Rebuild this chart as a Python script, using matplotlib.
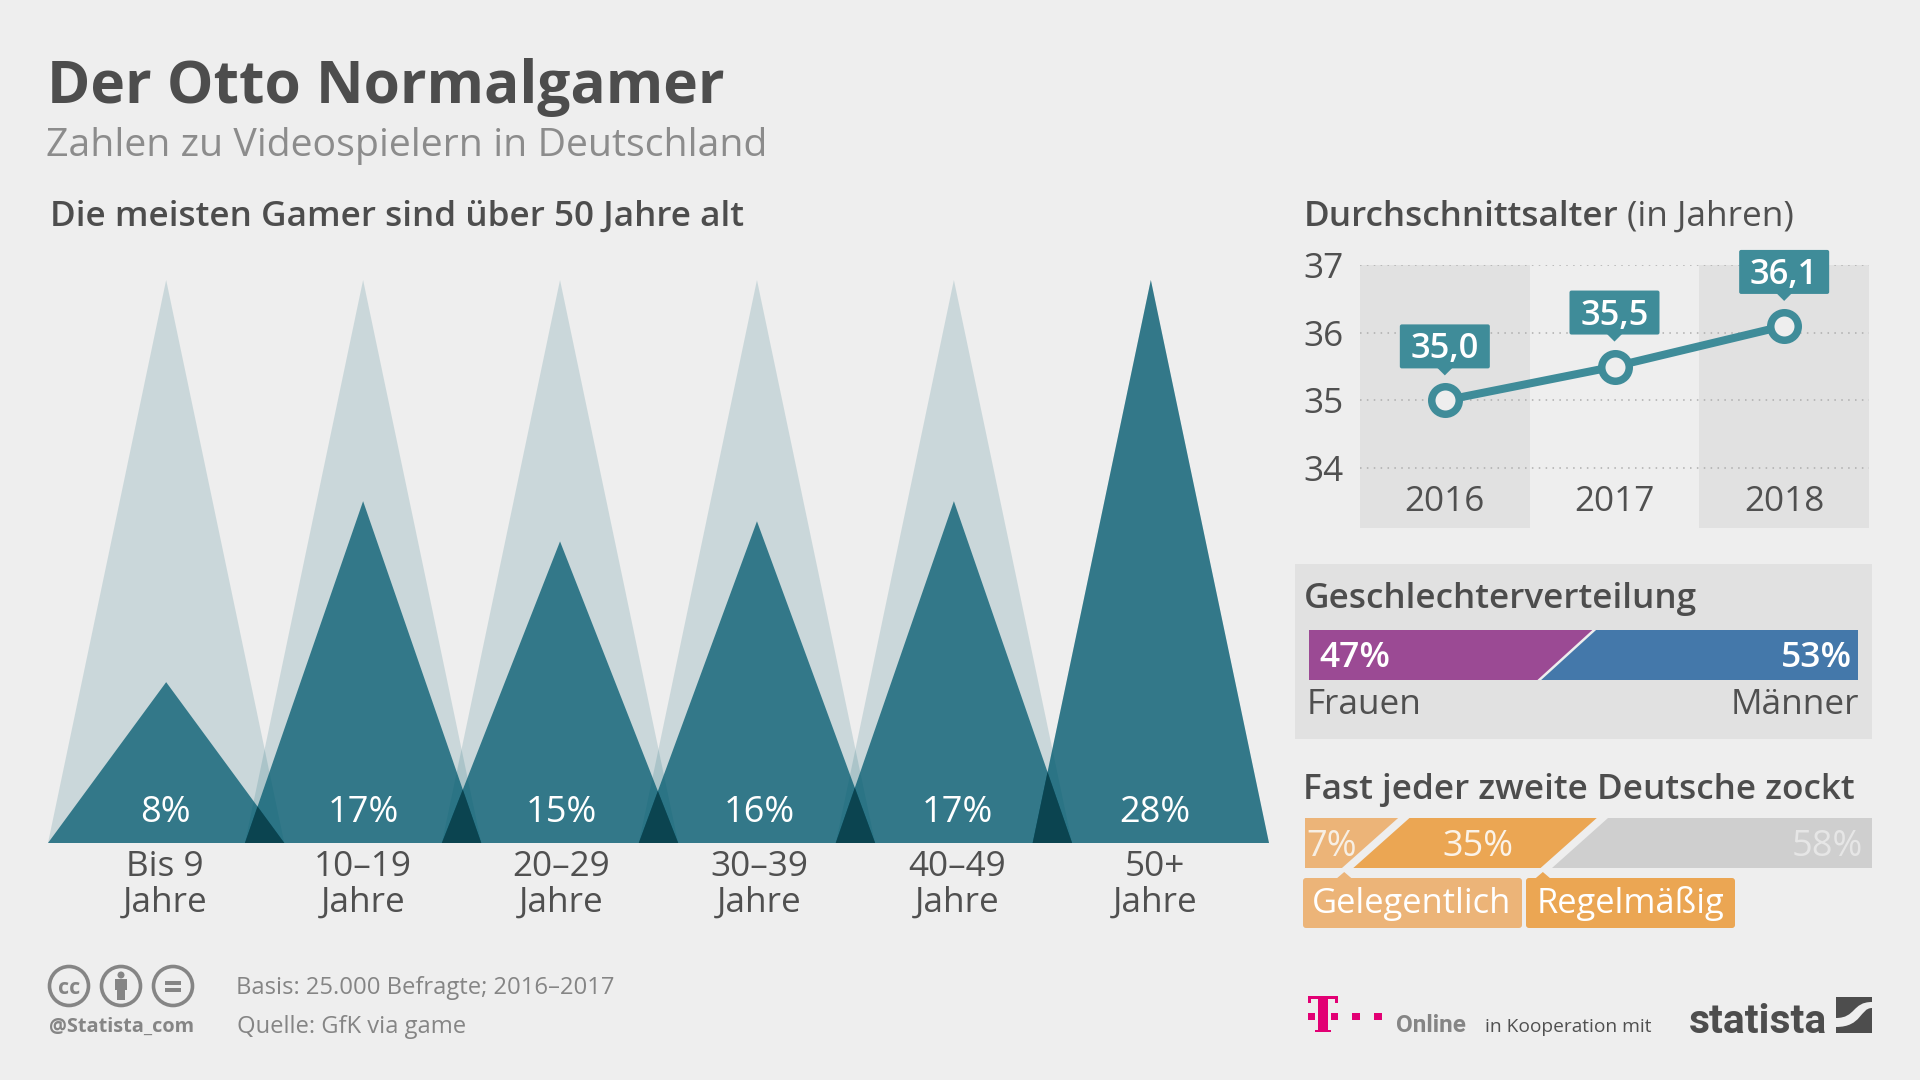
"""
Der Otto Normalgamer - recreated infographic: triangle bars, line chart, two stacked bars.
"""

import matplotlib

matplotlib.use("Agg")

import matplotlib.pyplot as plt
from matplotlib.patches import Circle, FancyBboxPatch, PathPatch, Polygon, Rectangle
from matplotlib.path import Path

plt.rcParams["font.family"] = ["Open Sans", "DejaVu Sans"]

# Age groups
age_groups = ["Bis 9\nJahre", "10–19\nJahre", "20–29\nJahre", "30–39\nJahre", "40–49\nJahre", "50+\nJahre"]
age_shares = [8, 17, 15, 16, 17, 28]

# Average age
years = ["2016", "2017", "2018"]
mean_age = [35.0, 35.5, 36.1]
mean_age_labels = ["35,0", "35,5", "36,1"]
age_ticks = [34, 35, 36, 37]

# Gender
gender_names = ["Frauen", "Männer"]
gender_shares = [47, 53]

# How often people play
play_names = ["Gelegentlich", "Regelmäßig", "Nie"]
play_shares = [7, 35, 58]

BG = "#eeeeee"
DARK = "#4d4d4d"
TEXT = "#505050"
GREY = "#858585"
TEAL = "#00596e"
TEAL_LINE = "#3f8c99"
HEAD = 25.3
BODY = 25.3

fig = plt.figure(figsize=(19.2, 10.8), dpi=100, facecolor=BG)


def px_axes(left, top, right, bottom, **kwargs):
    # Axes placed by reference pixels, y counted from the top of the image
    return fig.add_axes(
        [left / 1920, 1 - bottom / 1080, (right - left) / 1920, (bottom - top) / 1080],
        facecolor="none",
        **kwargs,
    )


def to_page(ax, x, y):
    # Data position of an axes -> page pixels
    px, py = ax.transData.transform((x, y))
    return px, 1080 - py


# Page layer, in pixels, below the charts
page = px_axes(0, 0, 1920, 1080, zorder=0)
page.set_xlim(0, 1920)
page.set_ylim(1080, 0)
page.axis("off")

# Page layer on top, for callouts and tags
top = px_axes(0, 0, 1920, 1080, zorder=5)
top.set_xlim(0, 1920)
top.set_ylim(1080, 0)
top.axis("off")

top.text(47, 103, "Der Otto Normalgamer", fontsize=42.2, fontweight="bold", color=DARK)
top.text(46, 156, "Zahlen zu Videospielern in Deutschland", fontsize=28.3, color="#8c8c8c")
top.text(50, 226, "Die meisten Gamer sind über 50 Jahre alt", fontsize=HEAD, fontweight=600, color=DARK)

# Triangle chart
ax = px_axes(48, 280, 1269, 843, zorder=2)
half_width = 0.6
ax.set_xlim(-half_width, len(age_shares) - 1 + half_width)
ax.set_ylim(0, max(age_shares))

# The labels run on a slightly wider pitch than the triangles
label_x = [i * 1.005 - 0.005 for i in range(len(age_shares))]

dark_triangles = []
for i, share in enumerate(age_shares):
    corners = [(i - half_width, 0), (i, max(age_shares)), (i + half_width, 0)]
    ax.add_patch(Polygon(corners, facecolor=TEAL, alpha=0.15, edgecolor="none"))
for i, share in enumerate(age_shares):
    corners = [(i - half_width, 0), (i, share), (i + half_width, 0)]
    patch = Polygon(corners, facecolor=TEAL, alpha=0.75, edgecolor="none")
    ax.add_patch(patch)
    dark_triangles.append((corners, patch))
    ax.text(label_x[i], 1.02, f"{share}%", color="white", fontsize=26, ha="center", va="baseline")

# The darkest corner, where two neighbouring triangles cross
for (corners, _), (_, neighbour) in zip(dark_triangles[:-1], dark_triangles[1:]):
    overlap = Polygon(corners, facecolor="#0b4450", edgecolor="none")
    ax.add_patch(overlap)
    overlap.set_clip_path(neighbour)

ax.set_xticks(label_x, age_groups)
ax.set_yticks([])
ax.tick_params(axis="x", length=0, pad=5, labelsize=BODY, labelcolor=TEXT)
for spine in ax.spines.values():
    spine.set_visible(False)
for label in ax.get_xticklabels():
    label.set_linespacing(1.08)

# Average age line chart
top.text(1304, 226, "Durchschnittsalter", fontsize=HEAD, fontweight=600, color=DARK)
top.text(1627, 226, "(in Jahren)", fontsize=HEAD, color=TEXT)

line_ax = px_axes(1360, 265, 1869, 528, zorder=2)
line_ax.set_xlim(-0.5, len(years) - 0.5)
line_ax.set_ylim(37 - 263 / 67.7, 37)
for i in range(0, len(years), 2):
    line_ax.axvspan(i - 0.5, i + 0.5, color="#e1e1e1", lw=0, zorder=0)
line_ax.set_xticks(range(len(years)), years)
line_ax.set_yticks(age_ticks)
line_ax.tick_params(axis="both", length=0, labelsize=BODY, labelcolor=TEXT)
line_ax.tick_params(axis="x", pad=-31)
line_ax.tick_params(axis="y", pad=12)
line_ax.grid(axis="y", color="#adadad", linestyle=(0, (1, 3.5)), linewidth=1.1, zorder=1)
line_ax.set_axisbelow(True)
for spine in line_ax.spines.values():
    spine.set_visible(False)
line_ax.plot(
    range(len(years)),
    mean_age,
    color=TEAL_LINE,
    linewidth=5.8,
    marker="o",
    markersize=19.8,
    markerfacecolor=BG,
    markeredgecolor=TEAL_LINE,
    markeredgewidth=5.4,
    clip_on=False,
    zorder=3,
)

# Callouts above the points
for i, (value, label) in enumerate(zip(mean_age, mean_age_labels)):
    px, py = to_page(line_ax, i, value)
    top.add_patch(
        FancyBboxPatch(
            (px - 44, py - 75), 88, 42,
            boxstyle="round,pad=1,rounding_size=2",
            facecolor=TEAL_LINE,
            edgecolor="none",
        )
    )
    top.add_patch(
        Polygon([(px - 8, py - 33), (px + 8, py - 33), (px, py - 25)], facecolor=TEAL_LINE, edgecolor="none")
    )
    top.text(px, py - 42, label, color="white", fontsize=24.8, fontweight=600, ha="center", va="baseline")

# Gender panel
page.add_patch(Rectangle((1295, 564), 577, 175, facecolor="#e1e1e1", edgecolor="none"))
top.text(1304, 608, "Geschlechterverteilung", fontsize=HEAD, fontweight=600, color=DARK)

gender_ax = px_axes(1308.5, 630, 1858, 680, zorder=2)
gender_ax.set_xlim(0, sum(gender_shares))
gender_ax.set_ylim(0, 1)
gender_ax.axis("off")
lean = 5.0
split = gender_shares[0]
gender_ax.fill([0, split + lean, split - lean, 0], [1, 1, 0, 0], color="#9b4a94", lw=0)
gender_ax.fill([split + lean, 100, 100, split - lean], [1, 1, 0, 0], color="#4478aa", lw=0)
gender_ax.plot([split - lean, split + lean], [0, 1], color="#eeeeee", lw=1.8)
top.text(1319, 667, f"{gender_shares[0]}%", color="white", fontsize=25.5, fontweight=600)
top.text(1852, 667, f"{gender_shares[1]}%", color="white", fontsize=25.5, fontweight=600, ha="right")
top.text(1307, 714, gender_names[0], color=TEXT, fontsize=BODY)
top.text(1859, 714, gender_names[1], color=TEXT, fontsize=BODY, ha="right")

# Play frequency bar
top.text(1303, 799, "Fast jeder zweite Deutsche zockt", fontsize=HEAD, fontweight=600, color=DARK)

play_ax = px_axes(1304.5, 818, 1872, 868, zorder=2)
play_ax.set_xlim(0, sum(play_shares))
play_ax.set_ylim(0, 1)
play_ax.axis("off")
play_colors = ["#ecb478", "#eba653", "#cfcfcf"]
lean = 9.9
gap = 1.0
nudge = 0.6
start = 0
edges = []
for i, (share, colour) in enumerate(zip(play_shares, play_colors)):
    end = start + share
    left_b = start + nudge + gap if i else 0
    left_t = start + nudge + lean + gap if i else 0
    right_b = end + nudge - gap if i < 2 else end
    right_t = end + nudge + lean - gap if i < 2 else end
    play_ax.fill([left_t, right_t, right_b, left_b], [1, 1, 0, 0], color=colour, lw=0)
    edges.append(end)
    start = end

top.text(1332, 856, f"{play_shares[0]}%", color="#f7efe4", fontsize=26, ha="center")
top.text(1478, 856, f"{play_shares[1]}%", color="#fbf3e8", fontsize=26, ha="center")
top.text(1863, 856, f"{play_shares[2]}%", color="#e6e6e6", fontsize=26, ha="right")

# Tags below the bar, pointing at the segment borders
tags = [(1303, 1522, 1412, 0, play_colors[0]), (1526, 1735, 1630, 1, play_colors[1])]
for left, right, centre, idx, colour in tags:
    top.add_patch(
        FancyBboxPatch(
            (left + 2, 880), right - left - 4, 46,
            boxstyle="round,pad=2,rounding_size=3",
            facecolor=colour,
            edgecolor="none",
        )
    )
    tip, _ = to_page(play_ax, edges[idx], 0)
    top.add_patch(Polygon([(tip - 7, 878), (tip + 7, 878), (tip, 872)], facecolor=colour, edgecolor="none"))
    top.text(centre, 913, play_names[idx], color="white", fontsize=24.8, ha="center")

# Creative Commons badges
for cx in (69, 121, 173):
    top.add_patch(Circle((cx, 986), 19.5, facecolor="none", edgecolor=GREY, linewidth=2.6))
top.text(69, 986, "cc", color=GREY, fontsize=15.5, fontweight="bold", ha="center", va="center_baseline")
top.add_patch(Circle((121, 975), 3.5, facecolor=GREY, edgecolor="none"))
top.add_patch(Rectangle((115, 979), 12, 11, facecolor=GREY, edgecolor="none"))
top.add_patch(Rectangle((117, 990), 8, 10, facecolor=GREY, edgecolor="none"))
top.add_patch(Rectangle((165, 981), 16, 4, facecolor=GREY, edgecolor="none"))
top.add_patch(Rectangle((165, 988), 16, 4, facecolor=GREY, edgecolor="none"))

top.text(49, 1032, "@Statista_com", color=GREY, fontsize=14.3, fontweight="bold")
top.text(236, 994, "Basis: 25.000 Befragte; 2016–2017", color=GREY, fontsize=17.1, ha="left")
top.text(237, 1033, "Quelle: GfK via game", color=GREY, fontsize=17.1, ha="left")

# Telekom mark
MAGENTA = "#e20074"
for x, y, w, h in [
    (1308, 996, 30, 3),
    (1308, 996, 3, 7),
    (1335, 996, 3, 7),
    (1318, 996, 10, 36),
    (1308, 1013, 7, 7),
    (1331, 1013, 7, 7),
    (1352, 1013, 8, 7),
    (1374, 1013, 8, 7),
]:
    top.add_patch(Rectangle((x, y), w, h, facecolor=MAGENTA, edgecolor="none"))
top.add_patch(Rectangle((1315, 1030), 16, 2, facecolor=MAGENTA, edgecolor="none"))
top.text(1396, 1032, "Online", color=GREY, fontsize=17.5, fontweight="bold", family=["Roboto", "DejaVu Sans"])
top.text(1485, 1032, "in Kooperation mit", color=TEXT, fontsize=13.8)

# Statista mark
top.text(1689, 1033, "statista", color=DARK, fontsize=29.3, fontweight="bold", family=["Roboto", "DejaVu Sans"])
top.add_patch(Rectangle((1836, 997), 36, 36, facecolor=DARK, edgecolor="none"))
swoosh = Path(
    [(1836, 1018), (1856, 1018), (1852, 1002), (1872, 1002), (1872, 1008), (1860, 1008), (1862, 1027), (1836, 1027), (1836, 1018)],
    [Path.MOVETO, Path.CURVE4, Path.CURVE4, Path.CURVE4, Path.LINETO, Path.CURVE4, Path.CURVE4, Path.CURVE4, Path.CLOSEPOLY],
)
top.add_patch(PathPatch(swoosh, facecolor=BG, edgecolor="none"))

fig.savefig("out.png", dpi=100, facecolor=BG)
